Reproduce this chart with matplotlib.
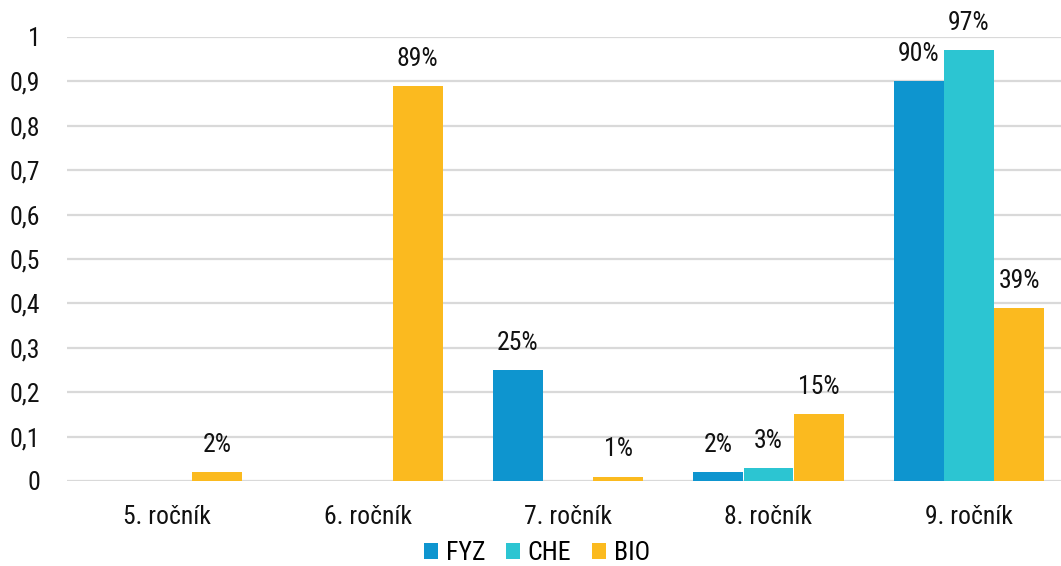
import matplotlib
matplotlib.use("Agg")
import matplotlib.pyplot as plt
from matplotlib import font_manager
from matplotlib.patches import Patch

categories = ["5. ročník", "6. ročník", "7. ročník", "8. ročník", "9. ročník"]
series_names = ["FYZ", "CHE", "BIO"]
fyz = [0.0, 0.0, 0.25, 0.02, 0.90]
che = [0.0, 0.0, 0.0, 0.03, 0.97]
bio = [0.02, 0.89, 0.01, 0.15, 0.39]
yticks = [0, 0.1, 0.2, 0.3, 0.4, 0.5, 0.6, 0.7, 0.8, 0.9, 1.0]
ytick_labels = ["0", "0,1", "0,2", "0,3", "0,4", "0,5", "0,6", "0,7", "0,8", "0,9", "1"]

colors = ["#0E95CF", "#2CC5D2", "#FBBA1F"]

names = {f.name for f in font_manager.fontManager.ttflist}
font = "DejaVu Sans"
for cand in ["Roboto Condensed", "Liberation Sans Narrow", "Roboto"]:
    if cand in names:
        font = cand
        break
plt.rcParams["font.family"] = [font, "DejaVu Sans"]

FS = 18.5
W, H = 1061, 566
fig = plt.figure(figsize=(W / 100, H / 100), dpi=100)
left_px, right_px = 66.75, 1069.25
top_px, bottom_px = 37, 481
ax = fig.add_axes([left_px / W, (H - bottom_px) / H, (right_px - left_px) / W, (bottom_px - top_px) / H])

width = 0.249
offsets = [-0.25, 0.0, 0.25]
x = list(range(len(categories)))
for vals, off, col in zip([fyz, che, bio], offsets, colors):
    xs = [xi + off for xi in x]
    ax.bar(xs, vals, width=width, color=col, zorder=3, linewidth=0)
    for xi, v in zip(xs, vals):
        if v > 0:
            ax.annotate(f"{round(v * 100)}%", (xi, v), xytext=(0, 19.5), textcoords="offset points",
                        ha="center", va="center", fontsize=FS, color="#111111", annotation_clip=False)

ax.set_xlim(-0.5, 4.5)
ax.set_ylim(0, 1.0)
ax.set_yticks(yticks)
ax.set_yticklabels(ytick_labels)
ax.set_xticks(x)
ax.set_xticklabels(categories)
ax.tick_params(axis="both", length=0, labelsize=FS, colors="#111111")
ax.tick_params(axis="y", pad=19)
ax.tick_params(axis="x", pad=17)
for s in ax.spines.values():
    s.set_visible(False)
ax.yaxis.grid(True, color="#D9D9D9", linewidth=1.6, zorder=0)
ax.set_axisbelow(True)

handles = [Patch(facecolor=c, edgecolor="none") for c in colors]
fig.legend(handles, series_names, loc="center", bbox_to_anchor=(537 / W, (H - 553) / H), ncol=3,
           frameon=False, fontsize=FS, handlelength=0.55, handleheight=0.55, handletextpad=0.3,
           columnspacing=0.8)

fig.savefig("out.png", dpi=100)
